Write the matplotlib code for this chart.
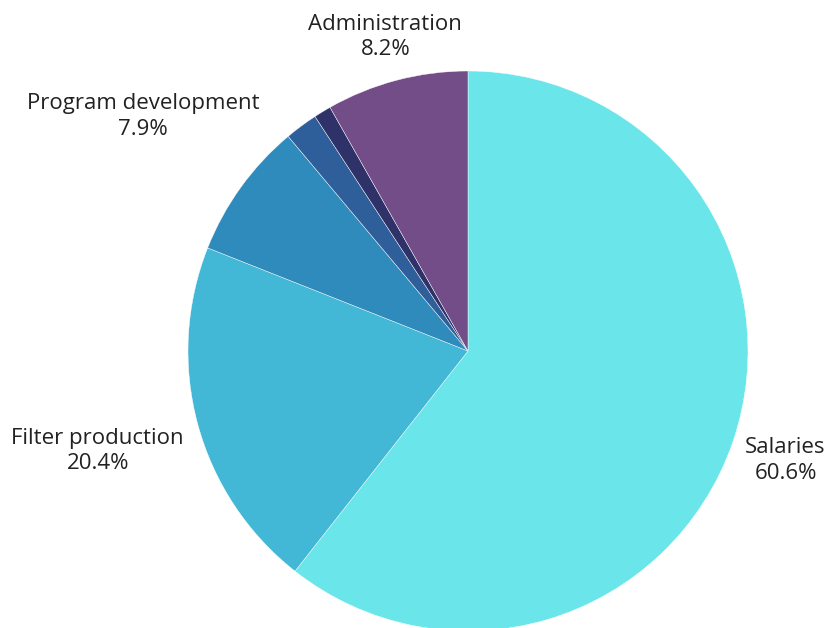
import numpy as np
import matplotlib.pyplot as plt

# budget shares, clockwise from 12 o'clock
categories = ['Salaries', 'Filter production', 'Program development', 'Other A', 'Other B', 'Administration']
shares = [60.6, 20.4, 7.9, 1.9, 1.0, 8.2]
show_label = [True, True, True, False, False, True]
colors = ['#6AE5E9', '#42B7D6', '#2E8BBB', '#2F5F9B', '#2E3268', '#734D87']

# label distance from centre, in radii (text is centred on that point)
label_dist = [1.20, 1.37, 1.43, 0, 0, 1.16]

plt.rcParams['font.family'] = ['Open Sans', 'DejaVu Sans']

fig = plt.figure(figsize=(8.32, 6.28), dpi=100)
ax = fig.add_axes([0, 0, 1, 1])
cx, cy, r = 468, 628 - 351, 280

wedges, _ = ax.pie(shares, colors=colors, startangle=90, counterclock=False,
                   center=(cx, cy), radius=r, frame=True,
                   wedgeprops=dict(edgecolor='white', linewidth=0.3))

for w, name, val, show, d in zip(wedges, categories, shares, show_label, label_dist):
    if not show:
        continue
    mid = np.radians((w.theta1 + w.theta2) / 2)
    x = cx + d * r * np.cos(mid)
    y = cy + d * r * np.sin(mid)
    ax.text(x, y, f'{name}\n{val}%', ha='center', va='center',
            fontsize=16, color='#222222', linespacing=1.3)

ax.set_xlim(0, 832)
ax.set_ylim(0, 628)
ax.axis('off')
fig.savefig('out.png', dpi=100)
